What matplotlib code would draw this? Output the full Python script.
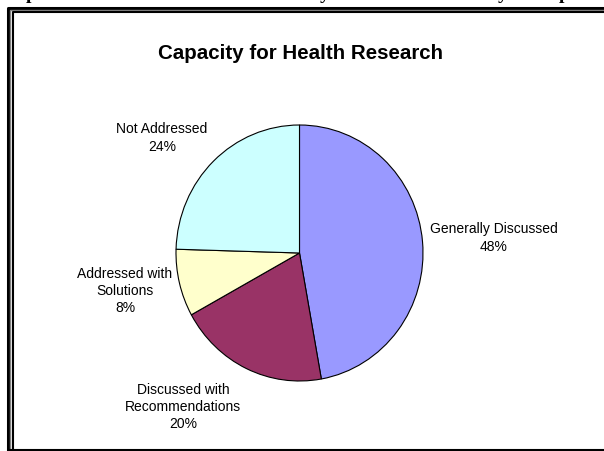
import matplotlib
matplotlib.use("Agg")
import matplotlib.pyplot as plt
from matplotlib.lines import Line2D

W, H = 604, 452

# data
categories = ["Generally Discussed", "Discussed with\nRecommendations",
              "Addressed with\nSolutions", "Not Addressed"]
values = [50, 21, 9, 26]
pct_labels = ["48%", "20%", "8%", "24%"]
colors = ["#9999FF", "#993366", "#FFFFCC", "#CCFFFF"]
title = "Capacity for Health Research"

# label centres (pixels, top-left origin)
label_pos = [(494, 238), (183, 407), (125, 291), (162, 138)]


def fx(x):
    return x / W


def fy(y):
    return 1 - y / H


fig = plt.figure(figsize=(W / 100, H / 100), dpi=100)
fig.patch.set_facecolor("white")

# pie axes (Excel draws it slightly taller than wide)
ax = fig.add_axes([fx(176), fy(382), 247 / W, 256 / H])
ax.pie(values, colors=colors, startangle=90, counterclock=False,
       wedgeprops=dict(edgecolor="black", linewidth=0.8))
ax.set_aspect("auto")
ax.set_xlim(-1, 1)
ax.set_ylim(-1, 1)
ax.axis("off")

for cat, pct, (x, y) in zip(categories, pct_labels, label_pos):
    fig.text(fx(x), fy(y), cat + "\n" + pct, ha="center", va="center",
             fontsize=10, family="Liberation Sans", linespacing=1.3)

fig.text(fx(300), fy(59), title, ha="center", va="baseline", fontsize=14.8,
         fontweight="bold", family="Liberation Sans")

# double frame around the chart
def line(xs, ys, lw, color):
    fig.add_artist(Line2D([fx(v) for v in xs], [fy(v) for v in ys],
                          linewidth=lw, color=color,
                          transform=fig.transFigure, solid_capstyle="butt"))

line([8, 8, W + 5], [H + 5, 8.5, 8.5], 2.2, "black")
line([10.3, 10.3, W + 5], [H + 5, 10.8, 10.8], 1.0, "#808080")
line([13, 13, W + 5], [H + 5, 13, 13], 1.5, "black")
line([8, W + 5], [451, 451], 1.5, "black")

# bottom of the document heading, cut off above the frame
for ch, x in [("p", 31), ("y", 325), ("y", 503), ("p", 564)]:
    fig.text(fx(x), fy(-1), ch, ha="center", va="baseline", fontsize=14,
             fontweight="bold", family="Liberation Serif")

fig.savefig("out.png", dpi=100)
